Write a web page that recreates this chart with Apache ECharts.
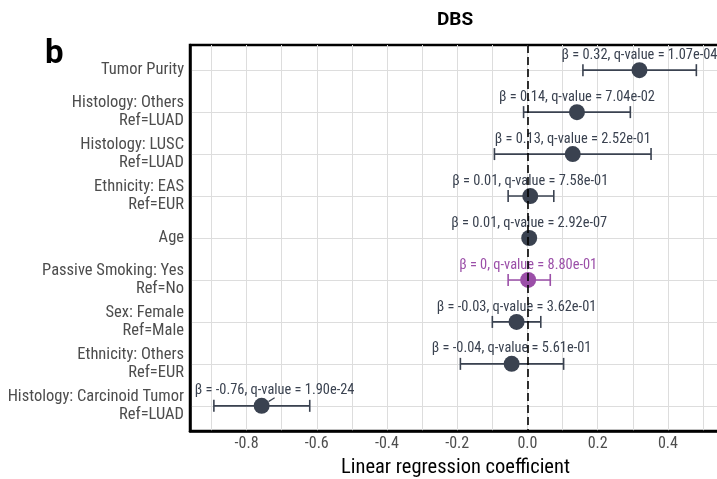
<!DOCTYPE html>
<html>
<head>
<meta charset="utf-8">
<script src="https://cdn.jsdelivr.net/npm/echarts@6/dist/echarts.min.js"></script>
<style>html,body{margin:0;padding:0;background:#fff}#c{width:717px;height:479px}</style>
</head>
<body>
<div id="c"></div>
<script>
const categories = [
  'Tumor Purity',
  'Histology: Others\nRef=LUAD',
  'Histology: LUSC\nRef=LUAD',
  'Ethnicity: EAS\nRef=EUR',
  'Age',
  'Passive Smoking: Yes\nRef=No',
  'Sex: Female\nRef=Male',
  'Ethnicity: Others\nRef=EUR',
  'Histology: Carcinoid Tumor\nRef=LUAD'
];
const beta   = [0.319, 0.141, 0.129, 0.008, 0.005, 0.002, -0.031, -0.045, -0.757];
const ciLow  = [0.158, -0.011, -0.094, -0.055, 0.004, -0.055, -0.100, -0.191, -0.893];
const ciHigh = [0.481, 0.293, 0.352, 0.075, 0.006, 0.065, 0.038, 0.103, -0.620];
const qValues = ['1.07e-04', '7.04e-02', '2.52e-01', '7.58e-01', '2.92e-07', '8.80e-01', '3.62e-01', '5.61e-01', '1.90e-24'];
const xGridValues = [-0.9, -0.8, -0.7, -0.6, -0.5, -0.4, -0.3, -0.2, -0.1, 0, 0.1, 0.2, 0.3, 0.4, 0.5];
const xTickLabels = [-0.8, -0.6, -0.4, -0.2, 0, 0.2, 0.4];

const highlightCategory = 'Passive Smoking: Yes\nRef=No';
const DARK = '#3a4250';
const PURPLE = '#9b4fa8';
const FONT = '"Roboto Condensed","Liberation Sans Narrow","Roboto",sans-serif';
const rowIdx = categories.map((c, i) => i);
const colorOf = i => categories[i] === highlightCategory ? PURPLE : DARK;

const chart = echarts.init(document.getElementById('c'), null, {renderer: 'canvas'});
chart.setOption({
  animation: false,
  textStyle: {fontFamily: FONT},
  title: [
    {text: 'DBS', left: 450, top: 6, textAlign: 'center',
     textStyle: {fontFamily: 'Roboto,sans-serif', fontWeight: 'bold', fontSize: 19, color: '#000'}},
    {text: 'b', left: 40, top: 33,
     textStyle: {fontFamily: 'Roboto,"Liberation Sans",sans-serif', fontWeight: 'bold', fontSize: 33, color: '#000'}}
  ],
  grid: {left: 190, top: 45, bottom: 48, right: -4, show: true, borderColor: '#000', borderWidth: 2.5,
         containLabel: false, outerBoundsMode: 'none'},
  xAxis: {
    type: 'value', min: -0.961, max: 0.5512,
    axisLine: {show: true, onZero: false, lineStyle: {color: '#000', width: 2.5}},
    axisTick: {show: false, customValues: xGridValues},
    axisLabel: {customValues: xTickLabels, formatter: v => v.toFixed(1), color: '#4d4d4d', fontSize: 16, margin: 5, fontFamily: FONT},
    splitLine: {show: true, lineStyle: {color: '#dddddd', width: 1}},
    name: 'Linear regression coefficient', nameLocation: 'middle', nameGap: 22,
    nameTextStyle: {fontSize: 20.5, color: '#000', fontFamily: FONT}
  },
  yAxis: {
    type: 'value', min: -0.6, max: 8.6, inverse: true,
    axisLine: {show: true, onZero: false, lineStyle: {color: '#000', width: 2.5}},
    axisTick: {show: false, customValues: rowIdx},
    axisLabel: {customValues: rowIdx, formatter: v => categories[v], color: '#4d4d4d', fontSize: 16.5, lineHeight: 18, margin: 6, align: 'right', fontFamily: FONT},
    splitLine: {show: true, lineStyle: {color: '#dddddd', width: 1}}
  },
  series: [
    {
      type: 'custom',
      data: rowIdx.map(i => [ciLow[i], ciHigh[i], i]),
      renderItem: (params, api) => {
        const lo = api.coord([api.value(0), api.value(2)]);
        const hi = api.coord([api.value(1), api.value(2)]);
        const col = colorOf(params.dataIndex);
        const st = {stroke: col, lineWidth: 1.6};
        return {type: 'group', children: [
          {type: 'line', shape: {x1: lo[0], y1: lo[1], x2: hi[0], y2: hi[1]}, style: st},
          {type: 'line', shape: {x1: lo[0], y1: lo[1] - 6, x2: lo[0], y2: lo[1] + 6}, style: st},
          {type: 'line', shape: {x1: hi[0], y1: hi[1] - 6, x2: hi[0], y2: hi[1] + 6}, style: st}
        ]};
      },
      z: 3
    },
    {
      type: 'scatter',
      symbolSize: 16,
      data: rowIdx.map(i => ({
        value: [beta[i], i],
        itemStyle: {color: colorOf(i), opacity: 1},
        label: {color: colorOf(i)}
      })),
      label: {
        show: true, position: 'top', distance: 0, fontSize: 14.4, fontFamily: FONT,
        formatter: p => 'β = ' + Number(beta[p.dataIndex].toFixed(2)) + ', q-value = ' + qValues[p.dataIndex]
      },
      labelLayout: p => p.dataIndex === 8 ? {dx: 13} : {},
      labelLine: {show: true, length2: 0, lineStyle: {color: DARK, width: 1.2}},
      z: 4,
      markLine: {
        silent: true, symbol: 'none', label: {show: false},
        lineStyle: {color: '#000', type: [8, 4], width: 1.6},
        data: [{xAxis: 0}]
      }
    }
  ]
});
</script>
</body>
</html>
